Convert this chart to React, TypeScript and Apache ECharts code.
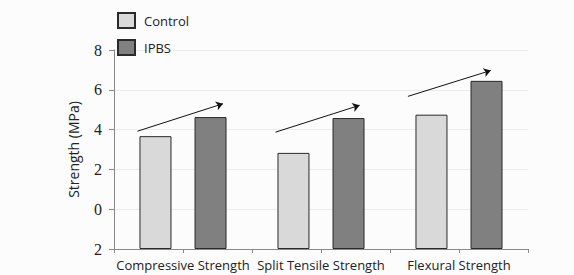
import React, { useEffect, useRef } from "react";
import * as echarts from "echarts";

const categories = ["Compressive Strength", "Split Tensile Strength", "Flexural Strength"];
const controlValues = [3.67, 2.83, 4.75];
const ipbsValues = [4.63, 4.58, 6.45];
const seriesNames = ["Control", "IPBS"];
// bars start at the bottom of the axis (-2)
const BASE = -2;
const Y_MAX = 8;
// trend arrows: [xStart, yStart, xEnd, yEnd] in category-position units (0..3) and MPa
const arrows = [
  [0.17, 3.92, 0.79, 5.3],
  [1.17, 3.87, 1.78, 5.22],
  [2.13, 5.67, 2.73, 6.97],
];

export default function App() {
  const ref = useRef<HTMLDivElement>(null);
  useEffect(() => {
    if (!ref.current) return;
    const chart = echarts.init(ref.current, null, { renderer: "svg" });
    const shift = (v: number) => v - BASE;
    chart.setOption({
      animation: false,
      backgroundColor: "#fcfcfc",
      grid: { left: 114, right: 46, top: 50, bottom: 26 },
      legend: {
        orient: "vertical",
        left: 117,
        top: 12,
        padding: 0,
        itemWidth: 17,
        itemHeight: 15,
        itemGap: 10,
        icon: "rect",
        data: seriesNames,
        textStyle: { fontFamily: "Open Sans", fontSize: 13, color: "#222", padding: [0, 0, 0, 4] },
      },
      xAxis: [
        {
          type: "category",
          data: categories,
          axisLine: { show: false },
          axisTick: { show: false },
          axisLabel: { fontFamily: "Open Sans", fontSize: 13, color: "#222", margin: 9, interval: 0 },
        },
        {
          type: "value",
          min: 0,
          max: 3,
          interval: 0.5,
          position: "bottom",
          axisLabel: { show: false },
          splitLine: { show: false },
          axisLine: { show: true, lineStyle: { color: "#888" } },
          axisTick: { show: true, length: 4, lineStyle: { color: "#888" } },
        },
      ],
      yAxis: {
        type: "value",
        min: 0,
        max: Y_MAX - BASE,
        interval: 2,
        offset: 6,
        name: "Strength (MPa)",
        nameLocation: "middle",
        nameGap: 28,
        nameTextStyle: { fontFamily: "Open Sans", fontSize: 14, color: "#222" },
        axisLine: { show: true, lineStyle: { color: "#888" } },
        axisTick: { show: true, length: 5, lineStyle: { color: "#888" } },
        axisLabel: {
          fontFamily: "Liberation Serif",
          fontSize: 16,
          color: "#222",
          margin: 6,
          formatter: (v: number) => String(Math.abs(v + BASE)),
        },
        splitLine: { lineStyle: { color: "#ececec" } },
      },
      series: [
        {
          name: seriesNames[0],
          type: "bar",
          data: controlValues.map(shift),
          barWidth: 32,
          barGap: "72%",
          itemStyle: { color: "#d9d9d9", borderColor: "#2a2a2a", borderWidth: 1 },
        },
        {
          name: seriesNames[1],
          type: "bar",
          data: ipbsValues.map(shift),
          barWidth: 32,
          barGap: "72%",
          itemStyle: { color: "#808080", borderColor: "#2a2a2a", borderWidth: 1 },
        },
        {
          type: "lines",
          coordinateSystem: "cartesian2d",
          xAxisIndex: 1,
          yAxisIndex: 0,
          symbol: ["none", "arrow"],
          symbolSize: 7,
          lineStyle: { color: "#111", width: 1, opacity: 1 },
          data: arrows.map((a) => ({
            coords: [
              [a[0], shift(a[1])],
              [a[2], shift(a[3])],
            ],
          })),
          silent: true,
        },
      ],
    });
    return () => chart.dispose();
  }, []);
  return (
    <div
      ref={ref}
      style={{ position: "absolute", left: 0, top: 0, width: 574, height: 275 }}
    />
  );
}
